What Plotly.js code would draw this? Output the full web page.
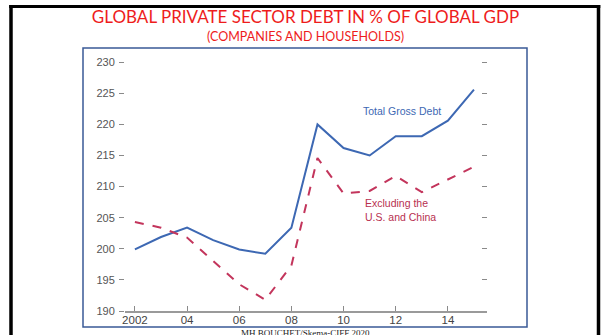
<!DOCTYPE html>
<html>
<head>
<meta charset="utf-8">
<script src="https://cdn.plot.ly/plotly-3.0.1.min.js"></script>
<style>
html,body{margin:0;padding:0;background:#fff;}
#chart{width:605px;height:335px;}
</style>
</head>
<body>
<div id="chart"></div>
<script>
var years = [2002,2003,2004,2005,2006,2007,2008,2009,2010,2011,2012,2013,2014,2015];
var totalGrossDebt = [199.9,201.9,203.4,201.4,199.9,199.2,203.4,220.0,216.2,215.0,218.1,218.1,220.6,225.6];
var exclUSChina = [204.3,203.4,201.8,198.0,194.3,191.8,197.3,214.6,208.9,209.3,211.7,209.1,211.1,213.2];
var xTickVals = [2002,2004,2006,2008,2010,2012,2014];
var xTickText = ['2002','04','06','08','10','12','14'];
var yTickVals = [190,195,200,205,210,215,220,225,230];
var yTickText = ['190','195','200','205','210','215','220','225','230'];

// pixel -> paper helpers (plot area: left 125, right 487, top 56, bottom 311)
var L = 125, R = 487, T = 56, B = 311;
function px(x){ return (x - L) / (R - L); }
function py(y){ return (B - y) / (B - T); }

var traces = [
  {x: years, y: totalGrossDebt, type: 'scatter', mode: 'lines',
   line: {color: '#3d68b3', width: 2}, hoverinfo: 'x+y'},
  {x: years, y: exclUSChina, type: 'scatter', mode: 'lines',
   line: {color: '#c3355c', width: 2, dash: 'dash'}, hoverinfo: 'x+y'},
  {x: [years[0]], y: [totalGrossDebt[0]], yaxis: 'y2', type: 'scatter', mode: 'markers',
   marker: {opacity: 0}, hoverinfo: 'skip'}
];

var tickFont = {family: 'Liberation Sans, Arial, sans-serif', size: 11, color: '#555'};

var layout = {
  width: 605, height: 335,
  margin: {l: L, r: 605 - R, t: T, b: 335 - B, pad: 0},
  paper_bgcolor: '#fff', plot_bgcolor: 'rgba(0,0,0,0)',
  showlegend: false,
  title: {
    text: 'GLOBAL PRIVATE SECTOR DEBT IN % OF GLOBAL GDP',
    x: 0.505, xanchor: 'center', y: 1 - 17/335, yanchor: 'middle',
    font: {family: 'Lato, Open Sans, sans-serif', size: 17, color: '#ee1c1c'}
  },
  xaxis: {
    range: [2001.62, 2015.5], showgrid: false, zeroline: false,
    showline: true, linecolor: '#9a9a9a', linewidth: 1.5,
    ticks: 'inside', ticklen: 5, tickcolor: '#8a8a8a', tickwidth: 1,
    tickvals: xTickVals, ticktext: xTickText, ticklabelstandoff: -2,
    tickfont: {family: 'Liberation Sans, Arial, sans-serif', size: 11.5, color: '#444'},
    fixedrange: true
  },
  yaxis: {
    range: [190, 231], showgrid: false, zeroline: false, showline: false,
    ticks: 'outside', ticklen: 5, tickcolor: '#8a8a8a', tickwidth: 1,
    tickvals: yTickVals, ticktext: yTickText, ticklabelstandoff: 2,
    tickfont: tickFont, fixedrange: true
  },
  yaxis2: {
    range: [190, 231], overlaying: 'y', side: 'right',
    showgrid: false, zeroline: false, showline: false,
    ticks: 'inside', ticklen: 5, tickcolor: '#8a8a8a', tickwidth: 1,
    tickvals: yTickVals.slice(1), showticklabels: false, fixedrange: true
  },
  shapes: [
    {type: 'rect', xref: 'paper', yref: 'paper',
     x0: px(83), x1: px(527), y0: py(327), y1: py(48),
     line: {color: '#3a5a96', width: 1.5}, fillcolor: 'rgba(0,0,0,0)', layer: 'below'},
    {type: 'line', xref: 'paper', yref: 'paper', x0: px(11), x1: px(11), y0: py(345), y1: py(5),
     line: {color: '#000', width: 3.5}},
    {type: 'line', xref: 'paper', yref: 'paper', x0: px(598.5), x1: px(598.5), y0: py(345), y1: py(5),
     line: {color: '#000', width: 3.5}},
    {type: 'line', xref: 'paper', yref: 'paper', x0: px(9.2), x1: px(600.3), y0: py(6.5), y1: py(6.5),
     line: {color: '#000', width: 3}}
  ],
  annotations: [
    {text: '(COMPANIES AND HOUSEHOLDS)', xref: 'paper', yref: 'paper',
     x: px(305), y: py(36), xanchor: 'center', yanchor: 'middle', showarrow: false,
     font: {family: 'Lato, Open Sans, sans-serif', size: 12.5, color: '#ee1c1c'}},
    {text: 'Total Gross Debt', xref: 'x', yref: 'y',
     x: 2012.24, y: 222.15, xanchor: 'center', yanchor: 'middle', showarrow: false,
     font: {family: 'Liberation Sans, Arial, sans-serif', size: 10.5, color: '#3d68b3'}},
    {text: 'Excluding the<br>U.S. and China', xref: 'x', yref: 'y', align: 'left',
     x: 2010.75, y: 206.2, xanchor: 'left', yanchor: 'middle', showarrow: false,
     font: {family: 'Liberation Sans, Arial, sans-serif', size: 10.5, color: '#b8304f'}},
    {text: 'MH BOUCHET/Skema-CIFF 2020', xref: 'paper', yref: 'paper',
     x: px(305), y: py(327), xanchor: 'center', yanchor: 'top', showarrow: false,
     borderpad: 0,
     font: {family: 'Liberation Serif, Times New Roman, serif', size: 9, color: '#222'}}
  ]
};

Plotly.newPlot('chart', traces, layout, {displayModeBar: false, staticPlot: true});
</script>
</body>
</html>
